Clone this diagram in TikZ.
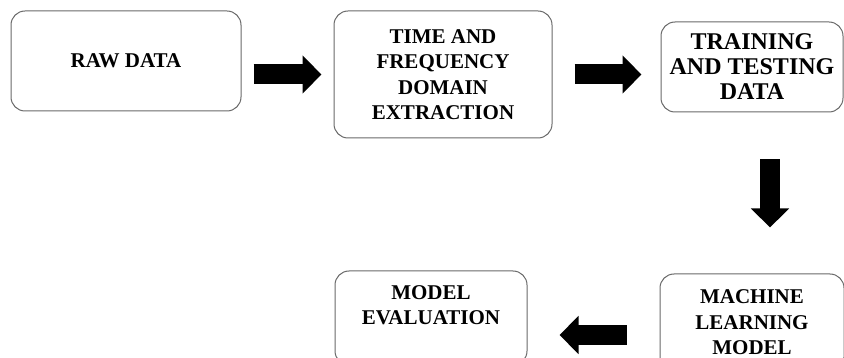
\documentclass[tikz,border=0pt]{standalone}
\usepackage{fontspec}
\setmainfont{Liberation Serif}
\usepackage{tikz}
\usetikzlibrary{arrows.meta}
\definecolor{boxline}{RGB}{105,105,105}
\tikzset{
  stagebox/.style={draw=boxline, rounded corners=14pt, line width=1pt, fill=white, align=center, inner sep=0pt, font=\fontsize{21}{25.5}\selectfont\bfseries},
  bigtext/.style={font=\fontsize{24}{25}\selectfont\bfseries},
  blockarrow/.style={-{Triangle[length=19pt,width=37pt]}, draw=black, line width=20pt}
}

\begin{document}
\begin{tikzpicture}[x=1pt,y=-1pt]
  \useasboundingbox (0,0) rectangle (844,358);
  \clip (0,0) rectangle (844,358);
  \node[stagebox, minimum width=230pt, minimum height=100pt] (raw) at (126,61) {RAW DATA};
  \node[stagebox, minimum width=218pt, minimum height=127pt] (tfd) at (443,74.5) {TIME AND\\FREQUENCY\\DOMAIN\\EXTRACTION};
  \node[stagebox, bigtext, minimum width=182pt, minimum height=90pt] (tt) at (752,67) {TRAINING\\AND TESTING\\DATA};
  \node[stagebox, minimum width=184pt, minimum height=97pt] (ml) at (752,322.5) {MACHINE\\LEARNING\\MODEL};
  \node[stagebox, minimum width=192pt, minimum height=94pt] (me) at (431,318) {MODEL\\EVALUATION\\\mbox{}};
  \draw[blockarrow, shorten <=12pt, shorten >=12pt] (raw.east |- tfd.west) -- (tfd.west);
  \draw[blockarrow, shorten <=22pt, shorten >=19pt] (tfd.east) -- (tt.west |- tfd.east);
  \draw[blockarrow, shorten <=47pt, shorten >=46pt] ([xshift=18pt]tt.south) -- ([xshift=18pt]tt.south |- ml.north);
  \draw[blockarrow, shorten <=33pt, shorten >=32pt] ([yshift=-12.5pt]ml.west) -- ([yshift=-12.5pt]ml.west -| me.east);
\end{tikzpicture}
\end{document}
